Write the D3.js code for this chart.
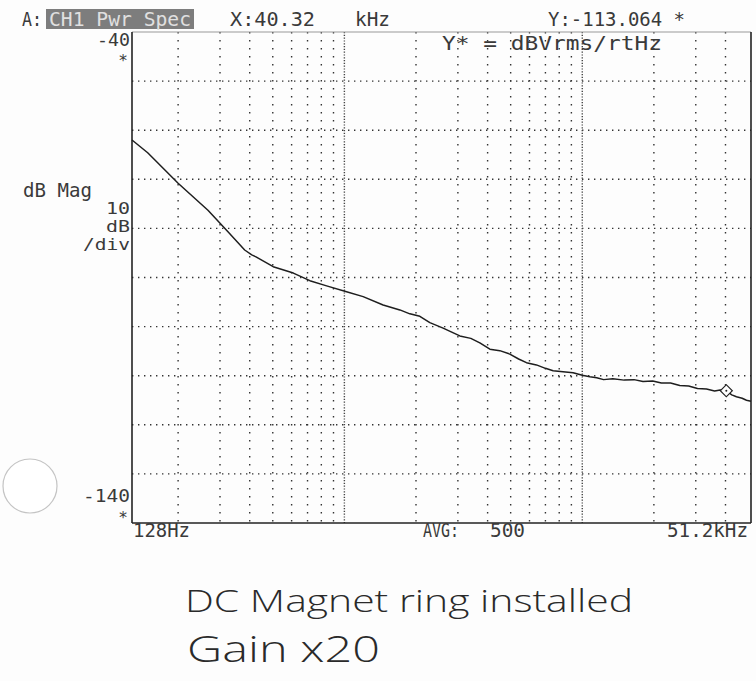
<!DOCTYPE html>
<html>
<head>
<meta charset="utf-8">
<script src="https://cdn.jsdelivr.net/npm/d3@7"></script>
<style>
  html, body { margin: 0; padding: 0; background: #fdfdfd; }
  svg { display: block; }
  .mono { font-family: "DejaVu Sans Mono", "Liberation Mono", monospace; fill: #3a3a3a; }
  .hand { font-family: "Open Sans", "DejaVu Sans", sans-serif; font-weight: 300; fill: #2a2a2a; }
</style>
</head>
<body>
<svg id="chart" width="756" height="681"></svg>
<script>
// ---- data ----
const freqHz = [128, 149, 200, 267, 324, 381, 408, 425, 502, 610, 716, 842, 1021, 1199, 1455, 1711,
  1884, 2076, 2287, 2600, 3057, 3400, 3710, 4089, 4500, 4959, 5400, 5826, 6416, 7000, 7542, 8300, 9152,
  10000, 10756, 11500, 12300, 13439, 15000, 16500, 18000, 19780, 21500, 23500, 25700, 28000, 30500,
  33280, 36000, 38000, 40320, 42500, 44480, 47000, 49000, 51200];
const magDb = [-62.0, -64.6, -70.8, -76.3, -80.7, -84.4, -85.4, -85.8, -87.8, -89.1, -90.65, -91.7, -92.9, -93.9, -95.6, -96.6,
  -97.4, -97.9, -99.2, -100.3, -101.9, -102.4, -103.3, -104.6, -104.9, -105.6, -106.6, -107.35, -107.8, -108.5, -109.0, -109.2, -109.4,
  -109.9, -110.2, -110.4, -110.8, -110.6, -110.9, -110.8, -111.2, -111.1, -111.5, -111.5, -112.0, -112.1, -112.6,
  -112.7, -113.1, -112.9, -113.064, -113.9, -114.3, -114.6, -115.0, -115.2];
const markerFreq = 40320;
const markerDb = -113.064;

const yTicks = [-40, -50, -60, -70, -80, -90, -100, -110, -120, -130, -140];
const xMinor = [200, 300, 400, 500, 600, 700, 800, 900, 2000, 3000, 4000, 5000, 6000, 7000, 8000, 9000, 20000, 30000, 40000];
const xMajor = [1000, 10000];

const headerTexts = ["A:", "CH1 Pwr Spec", "X:40.32", "kHz", "Y:-113.064 *"];
const unitText = "Y* = dBVrms/rtHz";
const yTopLabel = "-40", yBottomLabel = "-140";
const yScaleLabel = ["dB Mag", "10", "dB", "/div"];
const xLabels = ["128Hz", "AVG:", "500", "51.2kHz"];
const noteLines = ["DC Magnet ring installed", "Gain x20"];

// ---- layout ----
const L = 132, R = 751, T = 32, B = 523;
const svg = d3.select("#chart");
const x = d3.scaleLog().domain([128, 51200]).range([L, R]);
const y = d3.scaleLinear().domain([-140, -40]).range([B, T]);

// punch hole
svg.append("circle").attr("cx", 30).attr("cy", 486).attr("r", 27)
  .attr("fill", "#ffffff").attr("stroke", "#c4c4c4").attr("stroke-width", 1.2);

// grid: horizontal dotted
const g = svg.append("g");
g.selectAll("line.h").data(yTicks.slice(1, -1)).join("line")
  .attr("x1", L).attr("x2", R).attr("y1", d => y(d)).attr("y2", d => y(d))
  .attr("stroke", "#333").attr("stroke-width", 1.4).attr("stroke-dasharray", "1.4,4.6");
// vertical dotted
g.selectAll("line.v").data(xMinor).join("line")
  .attr("x1", d => x(d)).attr("x2", d => x(d)).attr("y1", T).attr("y2", B)
  .attr("stroke", "#333").attr("stroke-width", 1.4).attr("stroke-dasharray", "1.4,6.6");
g.selectAll("line.vm").data(xMajor).join("line")
  .attr("x1", d => x(d)).attr("x2", d => x(d)).attr("y1", T).attr("y2", B)
  .attr("stroke", "#444").attr("stroke-width", 1.4).attr("stroke-dasharray", "1.2,1.6");

// frame
svg.append("line").attr("x1", L).attr("x2", R).attr("y1", T).attr("y2", T).attr("stroke", "#999").attr("stroke-width", 1);
svg.append("line").attr("x1", L).attr("x2", R).attr("y1", B).attr("y2", B).attr("stroke", "#222").attr("stroke-width", 1.6);
svg.append("line").attr("x1", L).attr("x2", L).attr("y1", T).attr("y2", B).attr("stroke", "#222").attr("stroke-width", 1.6);
svg.append("line").attr("x1", R).attr("x2", R).attr("y1", T).attr("y2", B).attr("stroke", "#222").attr("stroke-width", 1.6);

// trace
const pts = freqHz.map((f, i) => [f, magDb[i]]);
svg.append("path").datum(pts)
  .attr("fill", "none").attr("stroke", "#1e1e1e").attr("stroke-width", 1.5)
  .attr("stroke-linejoin", "round")
  .attr("d", d3.line().x(d => x(d[0])).y(d => y(d[1])));

// marker
const mx = x(markerFreq), my = y(markerDb);
svg.append("path").attr("transform", `translate(${mx},${my}) rotate(45)`)
  .attr("d", d3.symbol().type(d3.symbolSquare).size(72)())
  .attr("fill", "#fff").attr("stroke", "#222").attr("stroke-width", 1.2);
svg.append("circle").attr("cx", mx).attr("cy", my).attr("r", 1).attr("fill", "#222");

// ---- texts ----
function mono(t, xx, yy, anchor, len, size) {
  const el = svg.append("text").attr("class", "mono").attr("x", xx).attr("y", yy)
    .attr("font-size", size || 19).attr("text-anchor", anchor || "start").text(t);
  if (len) el.attr("textLength", len).attr("lengthAdjust", "spacingAndGlyphs");
  return el;
}
// header
mono(headerTexts[0], 22, 26, "start", 20);
svg.append("rect").attr("x", 46).attr("y", 9).attr("width", 148).attr("height", 20).attr("fill", "#7d7d7d");
mono(headerTexts[1], 49, 26, "start", 142).style("fill", "#e0e0e0");
mono(headerTexts[2], 230, 26, "start", 85);
mono(headerTexts[3], 355, 26, "start", 35);
mono(headerTexts[4], 548, 26, "start", 137);
mono(unitText, 442, 50, "start", 220);

// y labels
mono(yTopLabel, 130, 46, "end", 33, 18);
mono("*", 123, 66, "middle", null, 16);
mono(yScaleLabel[0], 23, 197, "start", 69);
mono(yScaleLabel[1], 130, 214, "end", 24, 15);
mono(yScaleLabel[2], 130, 232, "end", 24, 15);
mono(yScaleLabel[3], 130, 250, "end", 47, 15);
mono(yBottomLabel, 130, 502, "end", 47, 18);
mono("*", 123, 523, "middle", null, 16);

// x labels
mono(xLabels[0], 133, 537, "start", 57);
mono(xLabels[1], 423, 537, "start", 36);
mono(xLabels[2], 490, 537, "start", 35);
mono(xLabels[3], 748, 537, "end", 81);

// handwritten note
svg.append("text").attr("class", "hand").attr("x", 185).attr("y", 612)
  .attr("font-size", 32).attr("textLength", 448).attr("lengthAdjust", "spacingAndGlyphs").text(noteLines[0]);
svg.append("text").attr("class", "hand").attr("x", 187).attr("y", 662)
  .attr("font-size", 36).attr("textLength", 193).attr("lengthAdjust", "spacingAndGlyphs").text(noteLines[1]);
</script>
</body>
</html>
